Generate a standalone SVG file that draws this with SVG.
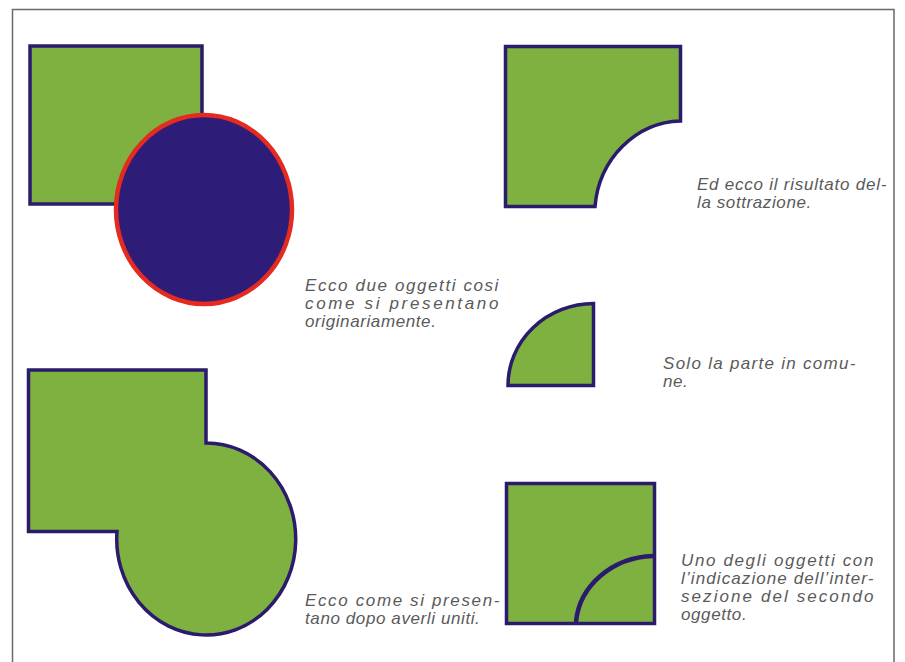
<svg xmlns="http://www.w3.org/2000/svg" width="905" height="662" viewBox="0 0 905 662">
<style>
.bg{fill:#ffffff}
.frame{fill:none;stroke:#6a6a6a;stroke-width:1.5}
.green{fill:#7fb141;stroke:#2a1b6c;stroke-width:3.5;stroke-linejoin:miter}
.disc{fill:#2d1d78;stroke:#e52a1f;stroke-width:4.5}
.cut{fill:none;stroke:#2a1b6c;stroke-width:4.5;stroke-linecap:butt}
.cap{font-family:"Liberation Sans",Arial,sans-serif;font-style:italic;font-size:17px;fill:#5a5a5a;letter-spacing:0.6px}
</style>
<rect class="bg" x="0" y="0" width="905" height="662"/>
<path class="frame" d="M12.5,662 V9.5 H894 V662"/>

<g id="original">
<rect class="green" x="30" y="46" width="172" height="158"/>
<ellipse class="disc" cx="204" cy="209.5" rx="88" ry="94.5"/>
</g>

<g id="subtraction">
<path class="green" d="M505.5,46.5 H680.5 V121 A88 94 0 0 0 595,206.5 H505.5 Z"/>
</g>

<g id="intersection">
<path class="green" d="M593.5,303.5 V385.5 H508 A86 82 0 0 1 593.5,303.5 Z"/>
</g>

<g id="union">
<path class="green" d="M28.5,370 H206 V443 A89.5 96 0 1 1 117,531.5 H28.5 Z"/>
</g>

<g id="indication">
<rect class="green" x="506.5" y="483.5" width="148" height="140"/>
<path class="cut" d="M653,556 A80 72 0 0 0 576,622"/>
</g>

<g id="captions">
<text class="cap" x="305" y="291" textLength="194" lengthAdjust="spacing">Ecco due oggetti cosi</text>
<text class="cap" x="305" y="309" textLength="194" lengthAdjust="spacing">come si presentano</text>
<text class="cap" x="305" y="327">originariamente.</text>

<text class="cap" x="697" y="190" textLength="190" lengthAdjust="spacing">Ed ecco il risultato del-</text>
<text class="cap" x="697" y="208">la sottrazione.</text>

<text class="cap" x="663" y="369" textLength="193" lengthAdjust="spacing">Solo la parte in comu-</text>
<text class="cap" x="663" y="387">ne.</text>

<text class="cap" x="305" y="606" textLength="195" lengthAdjust="spacing">Ecco come si presen-</text>
<text class="cap" x="305" y="624">tano dopo averli uniti.</text>

<text class="cap" x="681" y="566" textLength="193" lengthAdjust="spacing">Uno degli oggetti con</text>
<text class="cap" x="681" y="584" textLength="193" lengthAdjust="spacing">l’indicazione dell’inter-</text>
<text class="cap" x="681" y="602" textLength="193" lengthAdjust="spacing">sezione del secondo</text>
<text class="cap" x="681" y="620">oggetto.</text>
</g>
</svg>
